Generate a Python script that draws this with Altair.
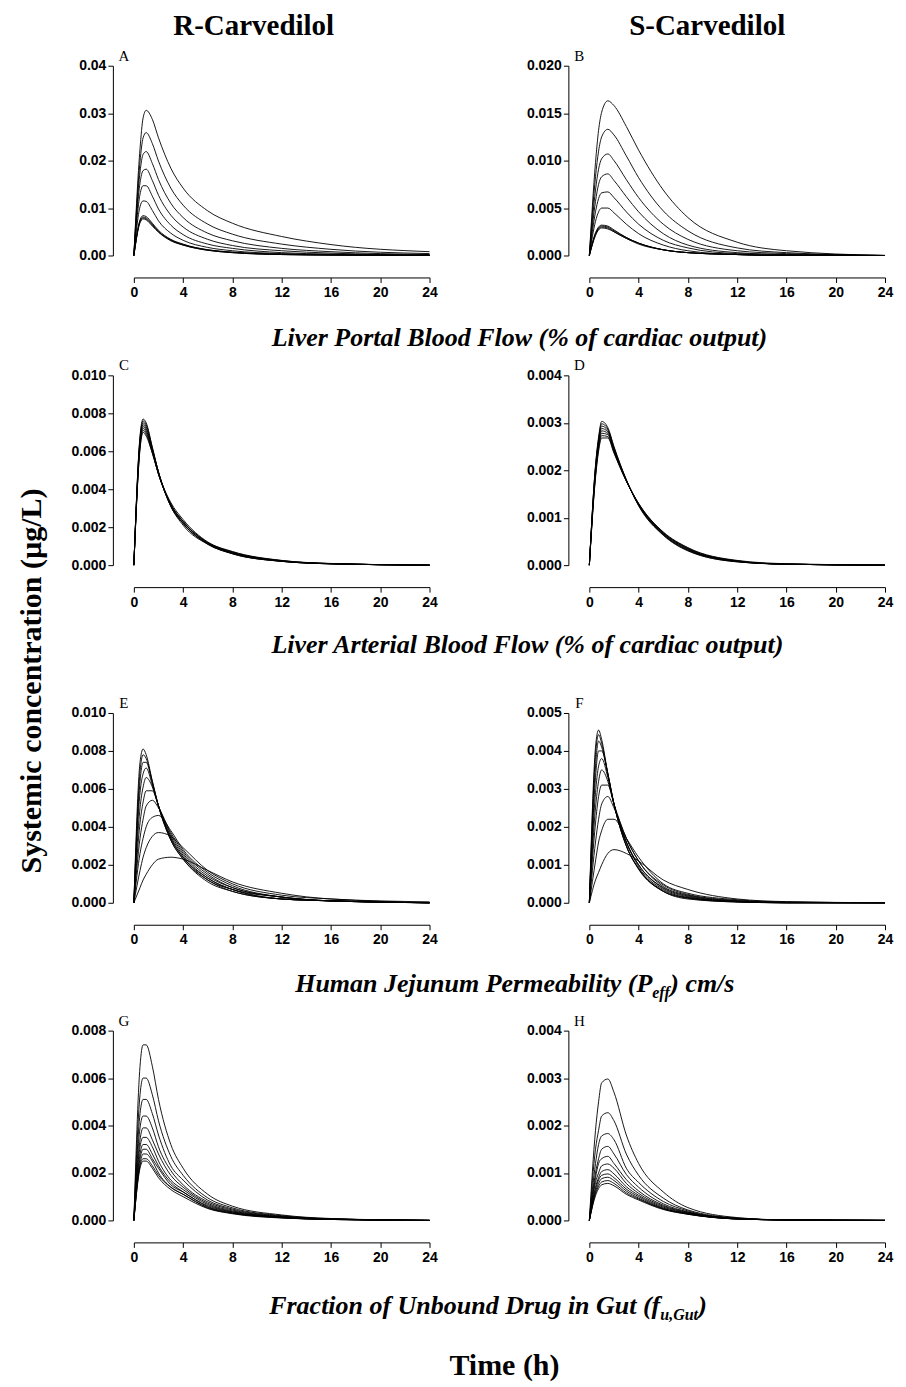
import altair as alt
import pandas as pd

# ---------------- data ----------------
TIME = [0, 0.5, 0.75, 1, 1.5, 2, 3, 4, 6, 8, 12, 16, 24]
X_TICKS = [0, 4, 8, 12, 16, 20, 24]

# A: R-Carvedilol, liver portal blood flow
A_CURVES = [
    [0, 0.0225, 0.0290, 0.0306, 0.0287, 0.0248, 0.0184, 0.0142, 0.0094, 0.0068, 0.0040, 0.0023, 0.0008],
    [0, 0.0198, 0.0248, 0.0259, 0.0236, 0.0199, 0.0142, 0.0106, 0.0066, 0.0045, 0.0024, 0.0013, 0.0004],
    [0, 0.0176, 0.0213, 0.0219, 0.0194, 0.0160, 0.0110, 0.0080, 0.0047, 0.0031, 0.0015, 0.0008, 0.0002],
    [0, 0.0153, 0.0179, 0.0182, 0.0158, 0.0127, 0.0085, 0.0060, 0.0034, 0.0021, 0.0010, 0.0005, 0.0001],
    [0, 0.0129, 0.0147, 0.0147, 0.0125, 0.0098, 0.0064, 0.0044, 0.0024, 0.0015, 0.0006, 0.0003, 0.0001],
    [0, 0.0103, 0.0115, 0.0114, 0.0095, 0.0073, 0.0047, 0.0032, 0.0017, 0.0010, 0.0004, 0.0002, 0.0000],
    [0, 0.0075, 0.0084, 0.0082, 0.0068, 0.0053, 0.0034, 0.0024, 0.0012, 0.0007, 0.0003, 0.0001, 0.0000],
    [0, 0.0073, 0.0081, 0.0079, 0.0066, 0.0051, 0.0033, 0.0023, 0.0012, 0.0007, 0.0002, 0.0001, 0.0000],
    [0, 0.0071, 0.0079, 0.0077, 0.0064, 0.0050, 0.0032, 0.0022, 0.0011, 0.0006, 0.0002, 0.0001, 0.0000],
    [0, 0.0069, 0.0077, 0.0075, 0.0062, 0.0049, 0.0031, 0.0022, 0.0011, 0.0006, 0.0002, 0.0001, 0.0000],
]
A_YTICKS = [0, 0.01, 0.02, 0.03, 0.04]

# B: S-Carvedilol, liver portal blood flow
B_CURVES = [
    [0, 0.0098, 0.0132, 0.0151, 0.0163, 0.0158, 0.0136, 0.0111, 0.0069, 0.0040, 0.0014, 0.0005, 0.0000],
    [0, 0.0083, 0.0110, 0.0125, 0.0133, 0.0127, 0.0105, 0.0082, 0.0047, 0.0026, 0.0008, 0.0003, 0.0000],
    [0, 0.0069, 0.0091, 0.0102, 0.0107, 0.0100, 0.0080, 0.0061, 0.0033, 0.0017, 0.0005, 0.0002, 0.0000],
    [0, 0.0057, 0.0075, 0.0083, 0.0086, 0.0079, 0.0062, 0.0046, 0.0023, 0.0011, 0.0003, 0.0001, 0.0000],
    [0, 0.0046, 0.0060, 0.0066, 0.0067, 0.0061, 0.0046, 0.0033, 0.0016, 0.0008, 0.0002, 0.0001, 0.0000],
    [0, 0.0036, 0.0046, 0.0050, 0.0050, 0.0045, 0.0033, 0.0023, 0.0011, 0.0005, 0.0001, 0.0000, 0.0000],
    [0, 0.0024, 0.0030, 0.0032, 0.0031, 0.0027, 0.0019, 0.0013, 0.0006, 0.0003, 0.0001, 0.0000, 0.0000],
    [0, 0.0023, 0.0029, 0.0031, 0.0030, 0.0026, 0.0019, 0.0013, 0.0006, 0.0003, 0.0001, 0.0000, 0.0000],
    [0, 0.0022, 0.0028, 0.0030, 0.0029, 0.0025, 0.0018, 0.0013, 0.0006, 0.0003, 0.0001, 0.0000, 0.0000],
    [0, 0.0021, 0.0027, 0.0029, 0.0028, 0.0025, 0.0018, 0.0012, 0.0006, 0.0003, 0.0001, 0.0000, 0.0000],
]
B_YTICKS = [0, 0.005, 0.010, 0.015, 0.020]

# C: R-Carvedilol, liver arterial blood flow
C_CURVES = [
    [0, 0.0068, 0.0077, 0.0075, 0.0062, 0.0049, 0.0031, 0.0021, 0.00110, 0.00060, 0.00020, 0.00007, 0],
    [0, 0.0067, 0.0076, 0.0074, 0.0062, 0.0049, 0.0031, 0.0022, 0.00110, 0.00060, 0.00020, 0.00007, 0],
    [0, 0.0066, 0.0075, 0.0073, 0.0061, 0.0049, 0.0031, 0.0022, 0.00112, 0.00062, 0.00020, 0.00007, 0],
    [0, 0.0065, 0.0074, 0.0072, 0.0061, 0.0049, 0.0032, 0.0022, 0.00114, 0.00064, 0.00021, 0.00007, 0],
    [0, 0.0064, 0.0073, 0.0071, 0.0060, 0.0048, 0.0032, 0.0023, 0.00116, 0.00066, 0.00022, 0.00008, 0],
    [0, 0.0063, 0.0072, 0.0070, 0.0060, 0.0048, 0.0032, 0.0023, 0.00118, 0.00068, 0.00023, 0.00008, 0],
    [0, 0.0062, 0.0071, 0.0069, 0.0059, 0.0048, 0.0032, 0.0023, 0.00120, 0.00070, 0.00024, 0.00008, 0],
    [0, 0.0061, 0.0070, 0.0068, 0.0059, 0.0048, 0.0033, 0.0024, 0.00122, 0.00072, 0.00025, 0.00009, 0],
]
C_YTICKS = [0, 0.002, 0.004, 0.006, 0.008, 0.010]

# D: S-Carvedilol, liver arterial blood flow
D_CURVES = [
    [0, 0.00210, 0.00270, 0.00303, 0.00290, 0.00250, 0.00180, 0.00125, 0.00063, 0.00030, 0.00007, 0.00002, 0],
    [0, 0.00208, 0.00266, 0.00298, 0.00287, 0.00248, 0.00180, 0.00126, 0.00064, 0.00031, 0.00007, 0.00002, 0],
    [0, 0.00205, 0.00262, 0.00293, 0.00284, 0.00246, 0.00179, 0.00127, 0.00065, 0.00032, 0.00008, 0.00002, 0],
    [0, 0.00200, 0.00258, 0.00288, 0.00281, 0.00244, 0.00179, 0.00128, 0.00066, 0.00033, 0.00008, 0.00002, 0],
    [0, 0.00196, 0.00254, 0.00283, 0.00278, 0.00242, 0.00178, 0.00128, 0.00067, 0.00034, 0.00008, 0.00002, 0],
    [0, 0.00192, 0.00250, 0.00278, 0.00275, 0.00240, 0.00178, 0.00129, 0.00068, 0.00035, 0.00009, 0.00002, 0],
    [0, 0.00188, 0.00245, 0.00273, 0.00271, 0.00238, 0.00177, 0.00130, 0.00069, 0.00036, 0.00009, 0.00002, 0],
    [0, 0.00184, 0.00240, 0.00268, 0.00268, 0.00236, 0.00177, 0.00130, 0.00070, 0.00037, 0.00010, 0.00003, 0],
]
D_YTICKS = [0, 0.001, 0.002, 0.003, 0.004]

# E: R-Carvedilol, human jejunum permeability
E_CURVES = [
    [0, 0.0074, 0.0081, 0.0078, 0.0064, 0.0051, 0.0033, 0.0023, 0.0011, 0.0006, 0.0002, 0.0001, 0],
    [0, 0.0069, 0.0078, 0.0076, 0.0064, 0.0051, 0.0033, 0.0023, 0.0012, 0.0006, 0.0002, 0.0001, 0],
    [0, 0.0064, 0.0074, 0.0074, 0.0063, 0.0051, 0.0034, 0.0024, 0.0012, 0.0007, 0.0002, 0.0001, 0],
    [0, 0.0058, 0.0068, 0.0071, 0.0062, 0.0051, 0.0034, 0.0024, 0.0013, 0.0007, 0.0002, 0.0001, 0],
    [0, 0.0050, 0.0061, 0.0066, 0.0061, 0.0051, 0.0035, 0.0025, 0.0013, 0.0007, 0.0003, 0.0001, 0],
    [0, 0.0042, 0.0053, 0.0059, 0.0059, 0.0051, 0.0036, 0.0026, 0.0014, 0.0008, 0.0003, 0.0001, 0],
    [0, 0.0034, 0.0044, 0.0051, 0.0054, 0.0050, 0.0037, 0.0027, 0.0015, 0.0008, 0.0003, 0.0001, 0],
    [0, 0.0026, 0.0034, 0.0040, 0.0045, 0.0046, 0.0038, 0.0028, 0.0016, 0.0009, 0.0003, 0.0001, 0],
    [0, 0.0017, 0.0024, 0.0029, 0.0035, 0.0037, 0.0035, 0.0029, 0.0017, 0.0010, 0.0004, 0.0002, 0],
    [0, 0.0008, 0.0012, 0.0015, 0.0020, 0.0023, 0.0024, 0.0023, 0.0017, 0.0011, 0.0005, 0.0002, 0.00005],
]
E_YTICKS = [0, 0.002, 0.004, 0.006, 0.008, 0.010]

# F: S-Carvedilol, human jejunum permeability
F_CURVES = [
    [0, 0.0041, 0.00455, 0.0043, 0.0034, 0.0026, 0.0015, 0.00088, 0.00030, 0.00010, 0.00002, 0, 0],
    [0, 0.0039, 0.00443, 0.0042, 0.0034, 0.0026, 0.0015, 0.00090, 0.00030, 0.00012, 0.00002, 0, 0],
    [0, 0.0036, 0.00426, 0.0041, 0.0034, 0.0026, 0.0015, 0.00090, 0.00032, 0.00013, 0.00003, 0, 0],
    [0, 0.0033, 0.00400, 0.0040, 0.0034, 0.0026, 0.0016, 0.00095, 0.00035, 0.00014, 0.00003, 0, 0],
    [0, 0.0029, 0.00360, 0.0038, 0.0033, 0.0026, 0.0016, 0.00100, 0.00038, 0.00016, 0.00003, 0, 0],
    [0, 0.0025, 0.00320, 0.0035, 0.0032, 0.0026, 0.0016, 0.00100, 0.00040, 0.00018, 0.00004, 0.00001, 0],
    [0, 0.0021, 0.00280, 0.0031, 0.0031, 0.0026, 0.0017, 0.00110, 0.00043, 0.00020, 0.00005, 0.00001, 0],
    [0, 0.0016, 0.00220, 0.0026, 0.0028, 0.0025, 0.0017, 0.00110, 0.00047, 0.00022, 0.00006, 0.00001, 0],
    [0, 0.0011, 0.00160, 0.0019, 0.0022, 0.0022, 0.0017, 0.00120, 0.00050, 0.00025, 0.00008, 0.00002, 0],
    [0, 0.0006, 0.00080, 0.0010, 0.0013, 0.0014, 0.0013, 0.00110, 0.00060, 0.00035, 0.00010, 0.00003, 0],
]
F_YTICKS = [0, 0.001, 0.002, 0.003, 0.004, 0.005]

# G: R-Carvedilol, fraction unbound in gut
G_CURVES = [
    [0, 0.0065, 0.0074, 0.0074, 0.0065, 0.0051, 0.0032, 0.0022, 0.00110, 0.00060, 0.00023, 0.00008, 0],
    [0, 0.0053, 0.0060, 0.0060, 0.0053, 0.0042, 0.0027, 0.0019, 0.00095, 0.00053, 0.00020, 0.00007, 0],
    [0, 0.0045, 0.0051, 0.0051, 0.0045, 0.0036, 0.0023, 0.0017, 0.00085, 0.00048, 0.00018, 0.00006, 0],
    [0, 0.0039, 0.0044, 0.0044, 0.0039, 0.0031, 0.0021, 0.0015, 0.00078, 0.00044, 0.00016, 0.00006, 0],
    [0, 0.0034, 0.0039, 0.0039, 0.0034, 0.0028, 0.0019, 0.0014, 0.00072, 0.00040, 0.00015, 0.00005, 0],
    [0, 0.0031, 0.0035, 0.0035, 0.0031, 0.0025, 0.0017, 0.0013, 0.00067, 0.00037, 0.00014, 0.00005, 0],
    [0, 0.0028, 0.0032, 0.0032, 0.0028, 0.0023, 0.0016, 0.0012, 0.00062, 0.00035, 0.00013, 0.00005, 0],
    [0, 0.0026, 0.0030, 0.0030, 0.0026, 0.0022, 0.0015, 0.0012, 0.00058, 0.00033, 0.00012, 0.00004, 0],
    [0, 0.0024, 0.0028, 0.0028, 0.0025, 0.0020, 0.0014, 0.0011, 0.00055, 0.00031, 0.00012, 0.00004, 0],
    [0, 0.0023, 0.0026, 0.0026, 0.0023, 0.0019, 0.0014, 0.0011, 0.00052, 0.00030, 0.00011, 0.00004, 0],
    [0, 0.0022, 0.0025, 0.0025, 0.0022, 0.0018, 0.0013, 0.0010, 0.00050, 0.00028, 0.00010, 0.00004, 0],
]
G_YTICKS = [0, 0.002, 0.004, 0.006, 0.008]

# H: S-Carvedilol, fraction unbound in gut
H_CURVES = [
    [0, 0.00190, 0.00250, 0.00290, 0.00298, 0.00270, 0.00180, 0.00120, 0.00060, 0.00027, 0.00006, 0.00001, 0],
    [0, 0.00150, 0.00190, 0.00220, 0.00227, 0.00210, 0.00140, 0.00095, 0.00047, 0.00022, 0.00005, 0.00001, 0],
    [0, 0.00120, 0.00160, 0.00178, 0.00183, 0.00170, 0.00110, 0.00080, 0.00040, 0.00020, 0.00004, 0.00001, 0],
    [0, 0.00100, 0.00130, 0.00150, 0.00156, 0.00140, 0.00097, 0.00070, 0.00035, 0.00018, 0.00004, 0.00001, 0],
    [0, 0.00090, 0.00120, 0.00130, 0.00135, 0.00120, 0.00086, 0.00062, 0.00032, 0.00017, 0.00004, 0.00001, 0],
    [0, 0.00080, 0.00100, 0.00115, 0.00119, 0.00110, 0.00078, 0.00057, 0.00030, 0.00016, 0.00004, 0.00001, 0],
    [0, 0.00070, 0.00090, 0.00103, 0.00107, 0.00098, 0.00071, 0.00053, 0.00028, 0.00015, 0.00003, 0.00001, 0],
    [0, 0.00065, 0.00085, 0.00095, 0.00098, 0.00090, 0.00066, 0.00050, 0.00026, 0.00014, 0.00003, 0.00001, 0],
    [0, 0.00060, 0.00078, 0.00088, 0.00091, 0.00084, 0.00062, 0.00047, 0.00025, 0.00014, 0.00003, 0.00001, 0],
    [0, 0.00056, 0.00072, 0.00081, 0.00084, 0.00078, 0.00058, 0.00045, 0.00024, 0.00013, 0.00003, 0.00001, 0],
    [0, 0.00052, 0.00067, 0.00075, 0.00078, 0.00073, 0.00055, 0.00043, 0.00023, 0.00013, 0.00003, 0.00001, 0],
]
H_YTICKS = [0, 0.001, 0.002, 0.003, 0.004]

# ---------------- helpers ----------------
W, H = 296, 190
SERIF = "Liberation Serif"


def panel_df(curves):
    rows = []
    for i, c in enumerate(curves):
        for t, v in zip(TIME, c):
            rows.append({"time": t, "conc": v, "curve": i})
    return pd.DataFrame(rows)


def label(text, x, y, size, weight="normal", style="normal", align="center",
          baseline="middle", angle=0):
    return alt.Chart(pd.DataFrame({"t": [text]})).mark_text(
        font=SERIF, fontSize=size, fontWeight=weight, fontStyle=style,
        align=align, baseline=baseline, angle=angle, color="black"
    ).encode(x=alt.value(x), y=alt.value(y), text="t:N")


def panel(curves, yticks, fmt, letter, extras=()):
    df = panel_df(curves)
    lines = alt.Chart(df).mark_line(
        color="black", strokeWidth=0.9, interpolate="monotone"
    ).encode(
        x=alt.X("time:Q", scale=alt.Scale(domain=[0, 24], nice=False),
                axis=alt.Axis(values=X_TICKS, format="d", title=None, offset=22,
                              labelPadding=3)),
        y=alt.Y("conc:Q", scale=alt.Scale(domain=[0, yticks[-1]], nice=False),
                axis=alt.Axis(values=yticks, format=fmt, title=None, offset=21,
                              labelPadding=2)),
        detail="curve:N",
    )
    letter_layer = label(letter, -10, -10, 15)
    return alt.layer(lines, letter_layer, *extras).properties(width=W, height=H)


def spacer(h, extras=()):
    base = label("", 0, 0, 10)
    return alt.layer(base, *extras).properties(width=W, height=h)


CAP = dict(weight="bold", style="italic")

pA = panel(A_CURVES, A_YTICKS, ".2f", "A",
           [label("R-Carvedilol", 120, -40, 29, weight="bold")])
pB = panel(B_CURVES, B_YTICKS, ".3f", "B",
           [label("S-Carvedilol", 118, -40, 29, weight="bold")])
pC = panel(C_CURVES, C_YTICKS, ".3f", "C",
           [label("Systemic concentration (\u00b5g/L)", -102, 306, 30,
                  weight="bold", angle=270)])
pD = panel(D_CURVES, D_YTICKS, ".3f", "D")
pE = panel(E_CURVES, E_YTICKS, ".3f", "E")
pF = panel(F_CURVES, F_YTICKS, ".3f", "F")
pG = panel(G_CURVES, G_YTICKS, ".3f", "G", [
    label("Fraction of Unbound Drug in Gut (f", 527, 284, 26, align="right",
          baseline="alphabetic", **CAP),
    label("u,Gut", 527, 290, 16, align="left", baseline="alphabetic", **CAP),
    label(")", 565, 284, 26, align="left", baseline="alphabetic", **CAP),
    label("Time (h)", 371, 336, 30, weight="bold"),
])
pH = panel(H_CURVES, H_YTICKS, ".3f", "H")

s1L = spacer(120, [label("Liver Portal Blood Flow (% of cardiac output)", 386, 83, 26, **CAP)])
s1R = spacer(120)
s2L = spacer(148, [label("Liver Arterial Blood Flow (% of cardiac output)", 394, 80, 26, **CAP)])
s2R = spacer(148)
s3L = spacer(128, [
    label("Human Jejunum Permeability (P", 519, 89, 26, align="right",
          baseline="alphabetic", **CAP),
    label("eff", 519, 95, 16, align="left", baseline="alphabetic", **CAP),
    label(") cm/s", 537, 89, 26, align="left", baseline="alphabetic", **CAP),
])
s3R = spacer(128)

chart = alt.concat(
    pA, pB, s1L, s1R, pC, pD, s2L, s2R, pE, pF, s3L, s3R, pG, pH,
    columns=2, spacing={"row": 0, "column": 160}, bounds="flush", align="each",
).properties(
    padding={"left": 9, "top": 3, "right": 5, "bottom": 0},
    background="white",
).configure_view(
    stroke=None
).configure_axis(
    labelFont="Liberation Sans", labelFontWeight="bold", labelFontSize=14,
    labelColor="black", domainColor="black", tickColor="black", tickSize=5,
    grid=False, domainWidth=1, tickWidth=1, labelFlush=False, labelOverlap=False,
)

chart.save("out.html", embed_options={"renderer": "svg", "actions": False})
